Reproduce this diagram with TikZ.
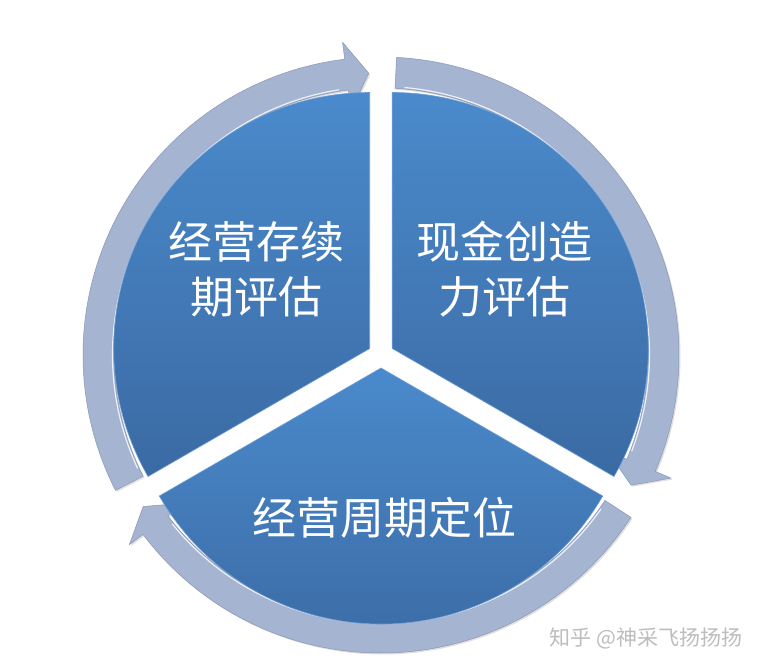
\documentclass[tikz,border=0pt]{standalone}
\usepackage{fontspec}
\newfontfamily\cjk{Noto Sans CJK SC}
\usepackage{tikz}
\usetikzlibrary{shadows}
\usepackage{xcolor}
\definecolor{pieTop}{HTML}{4A8ACC}
\definecolor{pieBot}{HTML}{3B6AA3}
\definecolor{pieEdge}{HTML}{6E9DD6}
\definecolor{ringFill}{HTML}{A5B4D1}
\definecolor{ringEdge}{HTML}{8A97B3}
\definecolor{wmGray}{HTML}{BDBDBD}

% ring arrow of the sector that starts at angle #1 (and spans 120 degrees)
\newcommand{\ringarrow}[1]{%
  \path[ring] (#1+117:298pt) arc[start angle=#1+117, end angle=#1+7, radius=298pt]
     -- (#1+7:315pt) -- (#1+2.5:282pt) -- (#1+7:246pt) -- (#1+7:267pt)
     arc[start angle=#1+7, end angle=#1+117, radius=267pt] -- cycle;
  \draw[ringlight] (#1+115:268.5pt) arc[start angle=#1+115, end angle=#1+9, radius=268.5pt];}

\begin{document}
\begin{tikzpicture}[x=1pt,y=1pt,
   sector/.style={top color=pieTop,bottom color=pieBot,draw=pieEdge,line width=0.6pt},
   ring/.style={fill=ringFill,draw=ringEdge,line width=0.5pt,
                drop shadow={shadow xshift=1.5pt,shadow yshift=-1.5pt,opacity=0.25}},
   ringlight/.style={white,line width=1.2pt,opacity=0.8},
   secText/.style={text=white,align=center,font=\cjk\fontsize{44pt}{55pt}\selectfont},
   wmText/.style={text=wmGray,font=\cjk\fontsize{21pt}{24pt}\selectfont}]
  \useasboundingbox[fill=white] (-381,-312) rectangle (388,355);
  % ring arrows
  \ringarrow{90}
  \ringarrow{-30}
  \ringarrow{-150}
  % sectors, pulled apart from the centre
  \path[sector] ([shift={(150:13pt)}]0,0) -- ++(90:256pt)
     arc[start angle=90, end angle=210, radius=256pt] -- cycle;
  \path[sector] ([shift={(30:13pt)}]0,0) -- ++(-30:256pt)
     arc[start angle=-30, end angle=90, radius=256pt] -- cycle;
  \path[sector] ([shift={(-90:13pt)}]0,0) -- ++(210:256pt)
     arc[start angle=210, end angle=330, radius=256pt] -- cycle;
  % labels
  \node[secText] (life) at (-124,86) {经营存续\\期评估};
  \node[secText] (cash) at (124,86) {现金创造\\力评估};
  \node[secText] (cycle) at (4,-163) {经营周期定位};
  % watermark
  \node[wmText] (wm) at (265,-283) {知乎 @神采飞扬扬扬};
\end{tikzpicture}
\end{document}
